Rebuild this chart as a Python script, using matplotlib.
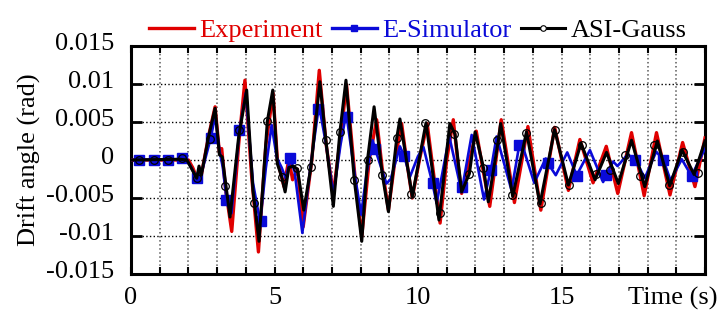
import matplotlib
matplotlib.use("Agg")
import matplotlib.pyplot as plt
from matplotlib.transforms import ScaledTranslation
from matplotlib.ticker import MultipleLocator

# Peaks / troughs (time in s, drift angle in rad)
exp_t = [0, 1.7, 1.9, 2.0, 2.15, 2.3, 2.45, 2.7, 2.93, 3.08, 3.16, 3.3, 3.51,
         3.75, 3.97, 4.2, 4.44, 4.7, 4.95, 5.1, 5.33, 5.5, 5.63, 5.8, 6.0,
         6.3, 6.56, 6.8, 7.05, 7.3, 7.51, 7.8, 8.04, 8.3, 8.56, 8.75, 8.97,
         9.2, 9.43, 9.6, 9.8, 10.05, 10.32, 10.55, 10.77, 11.0, 11.23, 11.38,
         11.52, 11.8, 12.03, 12.25, 12.5, 12.9, 13.36, 13.83, 14.28, 14.76,
         15.24, 15.64, 16.1, 16.56, 16.96, 17.44, 17.88, 18.31, 18.78, 19.22,
         19.65, 20.0]
exp_v = [0, 0, -0.0003, 0, -0.001, -0.0024, -0.002, 0.0031, 0.0070, 0.0010,
         0.0015, -0.0040, -0.0094, 0.0020, 0.0105, -0.0020, -0.0121, 0.0020,
         0.0088, 0.0, -0.0035, 0.0001, -0.0026, -0.0012, -0.0088, 0.0, 0.0118,
         0.0020, -0.0044, 0.0030, 0.0099, -0.0020, -0.0101, 0.0, 0.0053,
         -0.0010, -0.0066, 0.0, 0.0048, 0.0, -0.0050, 0.0, 0.0048, -0.0020,
         -0.0083, 0.0, 0.0053, 0.0, -0.0044, 0.0, 0.0038, -0.0010, -0.0061,
         0.0053, -0.0056, 0.0044, -0.0066, 0.0043, -0.0040, 0.0027, -0.0030,
         0.0018, -0.0044, 0.0036, -0.0047, 0.0036, -0.0046, 0.0023, -0.0035,
         0.0029]

esim_t = [0, 1.7, 1.95, 2.3, 2.45, 2.78, 2.93, 3.08, 3.2, 3.35, 3.5, 3.78,
          4.0, 4.25, 4.5, 4.7, 4.9, 5.08, 5.25, 5.4, 5.54, 5.7, 5.97, 6.25,
          6.55, 6.8, 7.05, 7.3, 7.5, 7.8, 8.02, 8.2, 8.42, 8.5, 8.9, 9.05,
          9.37, 9.52, 9.72, 10.0, 10.19, 10.5, 10.65, 11.09, 11.52, 11.87,
          12.3, 12.54, 12.74, 13.26, 13.53, 13.6, 14.05, 14.45, 14.52, 14.8,
          15.2, 15.53, 15.99, 16.45, 16.55, 16.8, 16.95, 17.3, 17.56, 17.9,
          18.3, 18.55, 18.8, 19.19, 19.53, 20.0]
esim_v = [0, 0.0001, 0.0, -0.0024, -0.0018, 0.0029, 0.0058, 0.0013, -0.0010,
          -0.0058, -0.0070, 0.0039, 0.0088, -0.0030, -0.0082, -0.0010, 0.0046,
          0.0003, -0.0010, -0.0025, 0.0002, -0.0015, -0.0096, -0.0010, 0.0072,
          0.0020, -0.0046, 0.0020, 0.0062, -0.0020, -0.0072, -0.0020, 0.0026,
          0.0015, -0.0031, -0.0025, 0.0018, 0.0005, -0.0022, 0.0005, 0.0017,
          -0.0030, -0.0057, 0.0031, -0.0042, 0.0033, -0.0052, -0.0013, 0.0031,
          -0.0040, 0.0020, 0.0024, -0.0030, 0.0002, -0.0004, -0.0020, 0.0010,
          -0.0020, 0.0013, -0.0029, -0.0020, -0.0002, -0.0008, 0.0007, 0.0002,
          -0.0024, 0.0011, 0.0, -0.0027, 0.0001, -0.0021, 0.0015]
esim_mark_t = [0.28, 0.8, 1.29, 1.78, 2.3, 2.78, 3.3, 3.78, 4.52, 5.54, 6.53,
               7.51, 8.5, 9.52, 10.51, 11.52, 12.54, 13.53, 14.52, 15.53,
               16.55, 17.56, 18.55, 19.53]
esim_mark_v = [0, 0, 0, 0.0002, -0.0024, 0.0029, -0.0052, 0.0039, -0.0080,
               0.0002, 0.0067, 0.0057, 0.0015, 0.0005, -0.0030, -0.0035,
               -0.0013, 0.0020, -0.0004, -0.0021, -0.0020, 0.0, 0.0, -0.0021]

asi_t = [0, 1.7, 1.95, 2.29, 2.37, 2.45, 2.7, 2.93, 3.08, 3.18, 3.45, 3.75,
         4.03, 4.25, 4.46, 4.75, 4.94, 5.1, 5.25, 5.37, 5.5, 5.65, 5.8, 6.02,
         6.27, 6.58, 6.79, 7.05, 7.28, 7.49, 7.78, 8.04, 8.24, 8.47, 8.76,
         8.97, 9.26, 9.37, 9.8, 10.28, 10.73, 11.11, 11.29, 11.52, 11.79,
         11.99, 12.28, 12.45, 12.8, 12.88, 13.3, 13.78, 14.25, 14.76, 15.24,
         15.68, 16.17, 16.57, 16.98, 17.44, 17.9, 18.34, 18.77, 19.2, 19.62,
         20.0]
asi_v = [0, 0.0001, 0.0, -0.0024, -0.0008, -0.0020, 0.0030, 0.0068, 0.0007,
         0.0004, -0.0075, 0.0030, 0.0092, -0.0040, -0.0107, 0.0051, 0.0092,
         -0.0005, -0.0022, -0.0042, -0.0010, -0.0008, -0.0012, -0.0066,
         -0.0009, 0.0103, 0.0026, -0.0061, 0.0037, 0.0105, -0.0026, -0.0107,
         0.0, 0.0070, -0.0020, -0.0068, 0.0029, 0.0054, -0.0048, 0.0049,
         -0.0079, 0.0048, 0.0034, -0.0042, -0.0018, 0.0037, -0.0010, -0.0055,
         0.0026, 0.0048, -0.0048, 0.0037, -0.0058, 0.0040, -0.0033, 0.0022,
         -0.0026, 0.0010, -0.0031, 0.0026, -0.0035, 0.0025, -0.0034, 0.0013,
         -0.0019, 0.0025]
asi_mark_t = [0.29, 0.8, 1.3, 1.79, 2.29, 2.75, 3.27, 3.78, 4.28, 4.75, 5.25,
              5.79, 6.27, 6.78, 7.27, 7.77, 8.26, 8.75, 9.26, 9.75, 10.26,
              10.77, 11.27, 11.77, 12.27, 12.77, 13.27, 13.77, 14.27, 14.77,
              15.26, 15.73, 16.2, 16.69, 17.2, 17.72, 18.21, 18.73, 19.24,
              19.76]
asi_mark_v = [0, 0, 0, 0.0002, -0.0024, 0.0028, -0.0034, 0.0039, -0.0056,
              0.0051, -0.0022, -0.0011, -0.0009, 0.0026, 0.0037, -0.0026, 0.0,
              -0.0020, 0.0029, -0.0045, 0.0049, -0.0070, 0.0034, -0.0019,
              -0.0010, 0.0026, -0.0046, 0.0035, -0.0057, 0.0040, -0.0033,
              0.0020, -0.0018, -0.0013, 0.0007, -0.0021, 0.0020, -0.0033,
              0.0011, -0.0017]

y_ticks = [-0.015, -0.01, -0.005, 0, 0.005, 0.01, 0.015]
y_labels = ['-0.015', '-0.01', '-0.005', '0', '0.005', '0.01', '0.015']
x_ticks = [0, 5, 10, 15]

RED = '#e00000'
BLUE = '#0a0ad8'

plt.rcParams['font.family'] = ['Liberation Serif', 'DejaVu Serif']
plt.rcParams['font.size'] = 19

fig = plt.figure(figsize=(7.21, 3.17), dpi=100)
ax = fig.add_axes([131 / 721, 43 / 317, 574 / 721, 228 / 317])

ax.plot(exp_t, exp_v, color=RED, lw=2.4, zorder=3)
ax.plot(esim_t, esim_v, color=BLUE, lw=1.9, zorder=4)
ax.plot(esim_mark_t, esim_mark_v, ls='none', marker='s', ms=6.5,
        color=BLUE, zorder=5)
ax.plot(asi_t, asi_v, color='black', lw=2.2, zorder=6)
ax.plot(asi_mark_t, asi_mark_v, ls='none', marker='o', ms=5.5,
        mfc='none', mec='black', mew=0.9, zorder=7)

# legend proxies
h1, = ax.plot([], [], color=RED, lw=2.4, label='Experiment')
h2, = ax.plot([], [], color=BLUE, lw=2.4, marker='s', ms=4.5,
              label='E-Simulator')
h3, = ax.plot([], [], color='black', lw=2.2, marker='o', ms=4, mfc='white',
              mew=0.8, label='ASI-Gauss')
ax.legend(handles=[h1, h2, h3], loc='lower center',
          bbox_to_anchor=(0.5, 1.0), ncol=3, frameon=False,
          handlelength=1.7, handletextpad=0.2, columnspacing=0.35,
          labelcolor=[RED, BLUE, 'black'], borderaxespad=0.05,
          borderpad=0.1)

ax.set_xlim(0, 20)
ax.set_ylim(-0.015, 0.015)
ax.set_xticks(x_ticks)
ax.xaxis.set_minor_locator(MultipleLocator(1))
ax.set_yticks(y_ticks)
ax.set_yticklabels(y_labels)

ax.grid(True, which='both', axis='x', ls=':', color='0.35', lw=1.1)
ax.grid(True, which='major', axis='y', ls=':', color='black', lw=1.0)

ax.tick_params(axis='x', which='both', direction='in', top=True,
               length=5, width=1.5, pad=9)
ax.tick_params(axis='y', direction='in', right=True, length=8, width=2,
               pad=12)
for s in ax.spines.values():
    s.set_linewidth(2.2)

for lbl in ax.get_yticklabels():
    lbl.set_transform(lbl.get_transform() +
                      ScaledTranslation(0, 5 / 100, fig.dpi_scale_trans))

ax.set_ylabel('Drift angle (rad)', labelpad=4)
fig.text(717 / 721, 1 - 298 / 317, 'Time (s)', ha='right', va='center')

fig.savefig('out.png', dpi=100)
